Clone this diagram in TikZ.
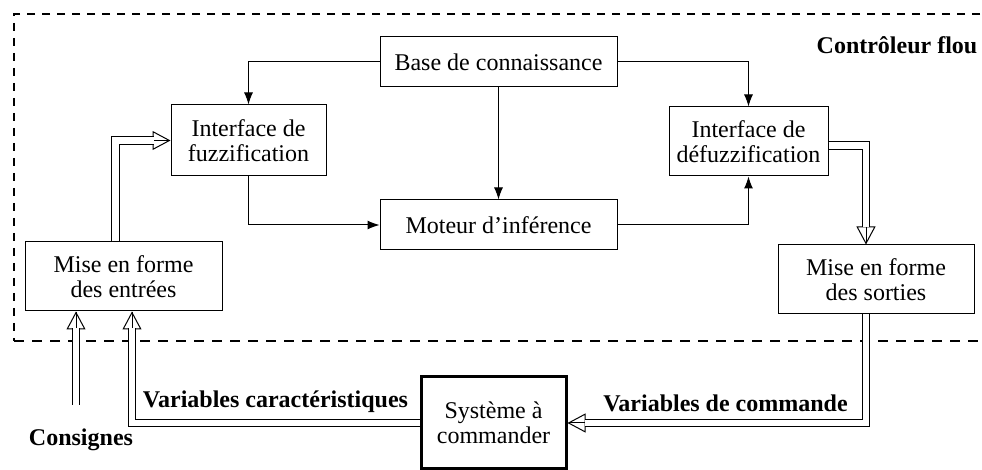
\documentclass[tikz,border=0pt]{standalone}
\usepackage{fontspec}
\setmainfont{Liberation Serif}
\usetikzlibrary{calc}
\usetikzlibrary{positioning}
\usetikzlibrary{arrows.meta}

\begin{document}
\begin{tikzpicture}[x=0.5pt,y=-0.5pt]
		\tikzset{>={Latex[length=6pt,width=4.5pt]}}
		\tikzset{bloc/.style={draw,line width=0.5pt,align=center,inner sep=0pt,font=\fontsize{12}{12.5}\selectfont}}
		\tikzset{fil/.style={->,line width=0.5pt}}
		\tikzset{dbl/.style={double,double distance=3.4pt,line width=0.5pt,shorten >=8.5pt}}
		\tikzset{tete/.style={-{Triangle[open,length=9pt,width=9.5pt]},line width=0.5pt}}
		\tikzset{etiq/.style={font=\fontsize{12}{12.5}\selectfont\bfseries,inner sep=0pt}}
		
		\useasboundingbox (0,0) rectangle (982,470);
		
		\draw[line width=1pt,dash pattern=on 4pt off 3.5pt] (980,14) -- (14,14) -- (14,341);
		\draw[line width=1.3pt,dash pattern=on 5pt off 4pt] (14,341) -- (982,341);
		
		\node[bloc,minimum width=118.5pt,minimum height=25pt] (base) at (498.5,62) {Base de connaissance};
		\node[bloc,minimum width=77.5pt,minimum height=35.5pt] (fuzz) at (248.5,140.5) {Interface de\\fuzzification};
		\node[bloc,minimum width=118.5pt,minimum height=25pt] (moteur) at (498.5,225) {Moteur d’inférence};
		\node[bloc,minimum width=79.5pt,minimum height=34.5pt] (defuzz) at (748.5,141.5) {Interface de\\défuzzification};
		\node[bloc,minimum width=98.5pt,minimum height=34.5pt] (entrees) at (123.5,276.5) {Mise en forme\\des entrées};
		\node[bloc,minimum width=98pt,minimum height=34.5pt] (sorties) at (876,279.5) {Mise en forme\\des sorties};
		\node[bloc,line width=1.5pt,minimum width=72.5pt,minimum height=46pt] (systeme) at (493.5,423) {Système à\\commander};
		
		\node[etiq] (ctrl) at (897,45) {Contrôleur flou};
		\node[etiq] (varcar) at (275.5,402) {Variables caractéristiques};
		\node[etiq] (varcom) at (725.5,403) {Variables de commande};
		\node[etiq] (consignes) at (81,440) {Consignes};
		\coordinate (cons) at (76,405);
		
		\draw[fil] (base.west) -| (fuzz.north);
		\draw[fil] (base.east) -| (defuzz.north);
		\draw[fil] (base.south) -- (moteur.north);
		\draw[fil] (fuzz.south) |- (moteur.west);
		\draw[fil] (moteur.east) -| (defuzz.south);
		
		\draw[tete] ($(fuzz.west)+(-1,0)$) -- (fuzz.west);
		\draw[dbl] ($(entrees.north)+(-8,0)$) |- (fuzz.west);
		
		\draw[tete] ($(sorties.north)+(-10,-1)$) -- ($(sorties.north)+(-10,0)$);
		\draw[dbl] ($(defuzz.east)+(0,4)$) -| ($(sorties.north)+(-10,0)$);
		
		\draw[tete] ($(systeme.east)+(1,0)$) -- (systeme.east);
		\draw[dbl] ($(sorties.south)+(-10,0)$) |- (systeme.east);
		
		\draw[tete] ($(entrees.south)+(8.5,1)$) -- ($(entrees.south)+(8.5,0)$);
		\draw[dbl] (systeme.west) -| ($(entrees.south)+(8.5,0)$);
		
		\draw[tete] ($(entrees.south)+(-47.5,1)$) -- ($(entrees.south)+(-47.5,0)$);
		\draw[dbl] (cons) -- ($(entrees.south)+(-47.5,0)$);
		
\end{tikzpicture}
\end{document}
